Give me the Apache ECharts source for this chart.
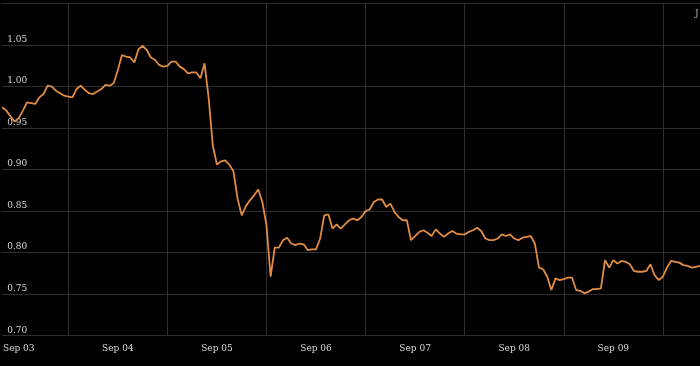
<!DOCTYPE html>
<html>
<head>
<meta charset="utf-8">
<script src="https://cdn.jsdelivr.net/npm/echarts@6/dist/echarts.min.js"></script>
<style>
html,body{margin:0;padding:0;background:#000;}
#chart{width:700px;height:366px;}
</style>
</head>
<body>
<div id="chart"></div>
<script>
// Day tick labels (each day at 00:00)
const dayLabels = ["Sep 03", "Sep 04", "Sep 05", "Sep 06", "Sep 07", "Sep 08", "Sep 09"];
// Hourly series starting Sep 02 20:00
const startHourOffset = 4; // hours before Sep 03 00:00
const rateValues = [
  0.975, 0.971, 0.964, 0.958, 0.962, 0.971, 0.981, 0.980, 0.979, 0.987,
  0.991, 1.001, 1.000, 0.995, 0.992, 0.989, 0.988, 0.987, 0.997, 1.001,
  0.996, 0.992, 0.991, 0.994, 0.997, 1.002, 1.001, 1.004, 1.020, 1.038,
  1.036, 1.035, 1.029, 1.045, 1.049, 1.044, 1.035, 1.032, 1.026, 1.024,
  1.025, 1.030, 1.030, 1.024, 1.021, 1.016, 1.017, 1.017, 1.010, 1.028,
  0.986, 0.929, 0.906, 0.910, 0.911, 0.906, 0.898, 0.865, 0.845, 0.856,
  0.863, 0.869, 0.876, 0.861, 0.833, 0.771, 0.806, 0.806, 0.815, 0.818,
  0.811, 0.809, 0.811, 0.810, 0.803, 0.804, 0.804, 0.817, 0.845, 0.846,
  0.829, 0.834, 0.829, 0.834, 0.839, 0.841, 0.839, 0.843, 0.850, 0.852,
  0.861, 0.864, 0.864, 0.855, 0.859, 0.849, 0.843, 0.839, 0.839, 0.815,
  0.820, 0.825, 0.827, 0.824, 0.820, 0.828, 0.823, 0.819, 0.823, 0.826,
  0.823, 0.822, 0.822, 0.825, 0.827, 0.830, 0.826, 0.817, 0.815, 0.815,
  0.817, 0.822, 0.820, 0.822, 0.817, 0.815, 0.818, 0.819, 0.820, 0.811,
  0.782, 0.780, 0.771, 0.755, 0.769, 0.767, 0.768, 0.770, 0.770, 0.755,
  0.754, 0.751, 0.753, 0.756, 0.756, 0.757, 0.791, 0.782, 0.791, 0.787,
  0.790, 0.789, 0.786, 0.778, 0.777, 0.777, 0.778, 0.786, 0.773, 0.767,
  0.771, 0.782, 0.790, 0.789, 0.788, 0.785, 0.784, 0.782, 0.783, 0.784
];
const yTicks = {min: 0.70, max: 1.10, step: 0.05};

// Build hourly category labels
const categories = [];
for (let i = 0; i < rateValues.length; i++) {
  const h = i - startHourOffset;
  const dayIdx = Math.floor(h / 24);
  const hour = ((h % 24) + 24) % 24;
  const dayName = dayIdx < 0 ? "Sep 02" : (dayLabels[dayIdx] || ("Sep " + String(3 + dayIdx).padStart(2, "0")));
  categories.push(dayName + " " + String(hour).padStart(2, "0") + ":00");
}

const chart = echarts.init(document.getElementById('chart'), null, {renderer: 'canvas'});
const font = 'DejaVu Serif';
chart.setOption({
  backgroundColor: '#000000',
  animation: false,
  grid: {left: 0, top: 3.5, width: 701, height: 332.2, containLabel: false},
  xAxis: {
    type: 'category',
    data: categories,
    boundaryGap: false,
    axisLine: {show: false},
    axisTick: {show: false},
    axisLabel: {
      interval: function (idx) { return (idx - startHourOffset) % 24 === 0 && idx >= startHourOffset; },
      formatter: function (v) { return v.slice(0, 6); },
      color: '#d8d8d8', fontFamily: font, fontSize: 9, margin: 8
    },
    splitLine: {
      show: true,
      interval: function (idx) { return (idx - startHourOffset - 12) % 24 === 0 && idx >= startHourOffset + 12; },
      lineStyle: {color: '#2e2e2e', width: 1}
    }
  },
  yAxis: {
    type: 'value',
    min: yTicks.min, max: yTicks.max, interval: yTicks.step,
    axisLine: {show: false},
    axisTick: {show: false},
    axisLabel: {
      inside: true, showMaxLabel: false,
      verticalAlign: 'bottom', margin: 5, padding: [0, 0, 1, 0],
      formatter: function (v) { return v.toFixed(2); },
      color: '#d8d8d8', fontFamily: font, fontSize: 9
    },
    splitLine: {show: true, lineStyle: {color: '#2e2e2e', width: 1}}
  },
  series: [{
    type: 'line',
    data: rateValues,
    showSymbol: false,
    symbol: 'none',
    lineStyle: {color: '#e08c45', width: 1.8},
    z: 5
  }],
  graphic: [{
    type: 'text', left: 695, top: 9,
    style: {text: 'J', fill: '#aaaaaa', font: '9px ' + font}
  }]
});
</script>
</body>
</html>
